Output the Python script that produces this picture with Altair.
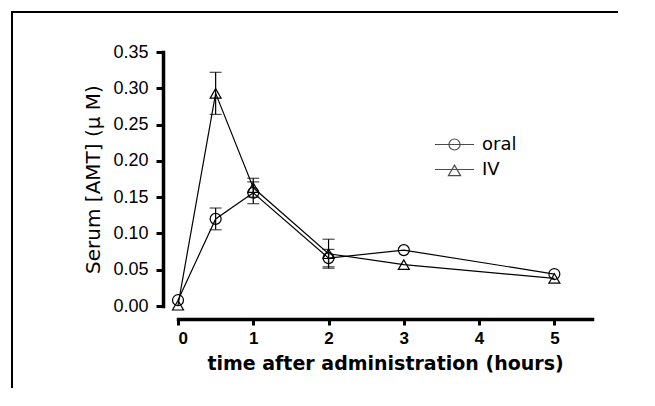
import altair as alt
import pandas as pd

# ---- data ----
times = [0, 0.5, 1, 2, 3, 5]
oral_mean = [0.008, 0.120, 0.156, 0.066, 0.077, 0.044]
oral_err = [None, 0.015, 0.015, 0.012, None, None]
iv_mean = [0.001, 0.293, 0.163, 0.072, 0.057, 0.038]
iv_err = [None, 0.029, 0.013, 0.020, None, None]
groups = ["oral", "IV"]
x_ticks = [0, 1, 2, 3, 4, 5]
y_ticks = [0.0, 0.05, 0.1, 0.15, 0.2, 0.25, 0.3, 0.35]

rows = []
for g, means, errs in [("oral", oral_mean, oral_err), ("IV", iv_mean, iv_err)]:
    for t, m, e in zip(times, means, errs):
        rows.append({
            "time": t, "group": g, "value": m,
            "lo": (m - e) if e is not None else None,
            "hi": (m + e) if e is not None else None,
        })
df = pd.DataFrame(rows)

FONT = "Liberation Sans"
WIDE = "DejaVu Sans"

xaxis = alt.Axis(values=x_ticks, format="d", title="time after administration (hours)",
                 offset=13, domainWidth=3.5, domainColor="black", tickWidth=3,
                 tickColor="black", tickSize=6, labelFont=FONT, labelFontSize=17,
                 labelFontWeight="bold", labelColor="black", labelPadding=5,
                 labelOverlap=False,
                 titleFont=WIDE, titleFontSize=19, titleFontWeight="bold",
                 titleColor="black", titlePadding=8, grid=False, domainCap="square")
yaxis = alt.Axis(values=y_ticks, format=".2f", title="Serum [AMT] (µ M)",
                 offset=15, domainWidth=3.5, domainColor="black", tickWidth=3,
                 tickColor="black", tickSize=7, labelFont=FONT, labelFontSize=18,
                 labelFontWeight="normal", labelOverlap=False, labelFlush=False,
                 labelColor="black", labelPadding=8, titleFont=WIDE,
                 titleFontSize=20, titleFontWeight="normal", titleColor="black",
                 titlePadding=9, grid=False, domainCap="square")
xscale = alt.Scale(domain=[0, 5.5], nice=False)
yscale = alt.Scale(domain=[0, 0.35], nice=False)


def X(f="time"):
    return alt.X(f"{f}:Q", scale=xscale, axis=xaxis)


def Y(f):
    return alt.Y(f"{f}:Q", scale=yscale, axis=yaxis)


base = alt.Chart(df)

lines = base.mark_line(color="black", strokeWidth=1.2).encode(
    x=X(), y=Y("value"), detail="group:N")

err = base.transform_filter("isValid(datum.lo)")
err_rule = err.mark_rule(color="black", strokeWidth=1.2).encode(
    x=X(), y=Y("lo"), y2="hi:Q")
cap_lo = err.mark_tick(color="black", orient="horizontal", size=12, thickness=1.2).encode(
    x=X(), y=Y("lo"))
cap_hi = err.mark_tick(color="black", orient="horizontal", size=12, thickness=1.2).encode(
    x=X(), y=Y("hi"))

points = base.mark_point(filled=False, color="black", strokeWidth=1.2, size=120, opacity=1).encode(
    x=X(), y=Y("value"),
    shape=alt.Shape("group:N", scale=alt.Scale(domain=groups, range=["circle", "triangle-up"]),
                    legend=None))

oral_path = "M-1.35,0H1.35M0.38,0A0.38,0.38,0,1,1,-0.38,0A0.38,0.38,0,1,1,0.38,0Z"
iv_path = "M-1.35,0H1.35M0,-0.3L0.42,0.42L-0.42,0.42Z"

legend_layer = base.transform_filter("false").mark_point(
    filled=False, color="black", strokeWidth=1.2).encode(
    x=X(), y=Y("value"),
    shape=alt.Shape("group:N", scale=alt.Scale(domain=groups, range=[oral_path, iv_path]),
                    legend=alt.Legend(orient="none", legendX=261, legendY=77, title=None,
                                      symbolSize=841, symbolStrokeWidth=1.2,
                                      symbolStrokeColor="black", symbolFillColor="transparent",
                                      labelFont=WIDE, labelFontSize=18, labelColor="black",
                                      labelOffset=12, rowPadding=0, padding=0)))

one = alt.Chart(df).transform_filter("datum.time == 0 && datum.group == 'oral'")
frame_left = one.mark_rule(color="black", strokeWidth=2, clip=False).encode(
    x=alt.value(-166), y=alt.value(-41), y2=alt.value(336))
frame_top = one.mark_rule(color="black", strokeWidth=2, clip=False).encode(
    x=alt.value(-167), x2=alt.value(440), y=alt.value(-40))

chart = alt.layer(frame_left, frame_top, lines, err_rule, cap_lo, cap_hi, points, legend_layer).resolve_scale(
    shape="independent"
).properties(
    width=414, height=254,
    autosize=alt.AutoSizeParams(type="none"),
    padding={"left": 170, "top": 44, "right": 55, "bottom": 84},
    background="white",
).configure_view(stroke=None)

chart.save("out.html", embed_options={"renderer": "svg", "actions": False})
